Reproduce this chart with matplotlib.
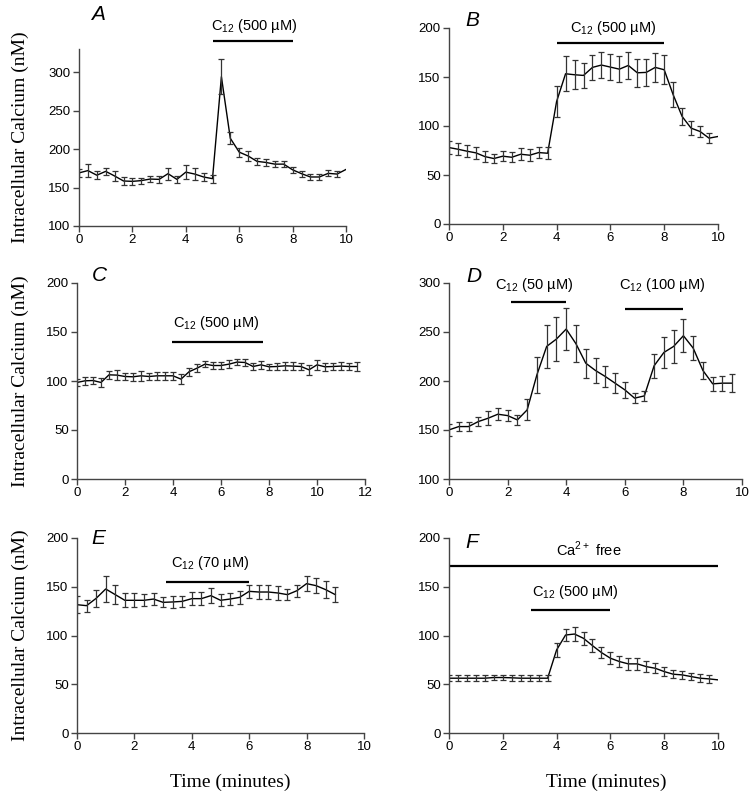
import matplotlib.pyplot as plt
import numpy as np

a_mean = [169, 172, 166, 171, 165, 158.5, 158, 159, 161, 160.6, 168, 160.6, 170, 167.5, 163.7, 161.5,
          294, 214, 196, 191, 184, 182.6, 180.4, 180.4, 173, 168, 163.7, 163.7, 168.4, 167.5, 173.5]
a_err = [5, 8, 5, 5, 6, 5, 5, 4, 4, 5, 8, 5, 9, 8, 5, 5,
         23, 8, 6, 6, 5, 4, 4, 4, 4, 4, 4, 4, 4, 4]

b_mean = [78, 76.3, 74.3, 72.6, 68.8, 66.8, 69.2, 68.1, 71.2, 70.2, 72.9, 72.2, 125, 153.3, 152.3, 151.6,
          159.8, 162.2, 160.1, 158, 161.8, 154.3, 154.7, 159.8, 157.4, 131.9, 109.7, 97.8, 94.4, 87.6, 89.3]
b_err = [7, 6, 6, 6, 6, 5, 5, 5, 6, 6, 6, 6, 16, 17.7, 15, 13,
         13, 13.5, 13, 13, 13.5, 14, 14, 15, 15, 12.7, 9, 7, 6, 5]

c_mean = [98.5, 100.2, 100.5, 98.5, 106.3, 106, 104.6, 104.3, 105.3, 104.6, 105.3, 105.3, 105.3,
          101.9, 109.4, 113.1, 117.2, 115.8, 115.8, 117.2, 119.3, 118.9, 114.8, 116.5, 114.5, 114.8,
          115.5, 115.2, 114.8, 111.4, 116.5, 114.5, 114.8, 115.2, 114.8, 114.8]
c_err = [4, 4, 4, 5, 4, 5, 4, 4, 5, 4, 4, 4, 4, 5, 4, 4, 3, 4, 4, 4, 3, 4, 4, 4, 3, 4,
         4, 4, 4, 5, 5, 4, 4, 4, 4, 5]

d_mean = [150.1, 153.5, 153.5, 158.6, 162, 166.1, 164.7, 160.3, 170.5, 206.3, 235.3, 242.8, 253,
          238, 218.2, 210.7, 204.6, 197.8, 191, 182.5, 184.8, 215.5, 229.1, 235.3, 246.2, 233.6,
          210.7, 197.1, 197.8, 197.8]
d_err = [6, 5, 5, 5, 7, 6, 6, 5, 10.7, 18.5, 22, 22, 21.5, 19, 14.7, 13, 11, 10, 8, 5, 5,
         12, 16, 16.5, 17, 12, 8.5, 7, 7.5, 9]

e_mean = [131.6, 130.6, 138.1, 147.7, 141.9, 136.1, 136.1, 136.1, 137.4, 134, 134.4, 135, 137.8,
          137.8, 140.9, 136.1, 137.4, 139.1, 145.3, 144.6, 144.6, 143.6, 141.9, 146, 153.2, 151.1,
          147, 141.9]
e_err = [8.5, 6, 9, 13, 10, 7, 7, 6, 6, 5, 6, 6, 7, 7, 8, 6, 6, 7, 7, 7, 7, 7, 6, 6, 8, 8, 9, 8]

f_mean = [56.2, 56.2, 56.2, 56.2, 56.2, 56.9, 56.9, 56.6, 56.2, 56.2, 56.2, 56.2, 85.2, 100.5,
          101.5, 97.1, 89.6, 82.5, 76.7, 73.3, 70.9, 70.9, 68.1, 66.4, 63, 60.3, 59.6, 57.9, 56.2,
          55.5, 54.5]
f_err = [3, 3, 3, 3, 3, 3, 3, 3, 3, 3, 3, 3, 7, 6, 7, 7, 7, 6, 6, 6, 6, 6, 6, 5, 5, 4, 4, 4, 4, 4]

panel_letters = ['A', 'B', 'C', 'D', 'E', 'F']
ylims = [(100, 330), (0, 200), (0, 200), (100, 300), (0, 200), (0, 200)]
xlims = [10, 10, 12, 10, 10, 10]
yticks = [[100, 150, 200, 250, 300], [0, 50, 100, 150, 200], [0, 50, 100, 150, 200],
          [100, 150, 200, 250, 300], [0, 50, 100, 150, 200], [0, 50, 100, 150, 200]]

# treatment bars: (start, end, bar y, label, text x, text y)
treatments = [
    [(5, 8, 340, r'C$_{12}$ (500 µM)', 6.55, 360)],
    [(4, 8, 185, r'C$_{12}$ (500 µM)', 6.1, 200)],
    [(3.95, 7.75, 140, r'C$_{12}$ (500 µM)', 5.8, 159)],
    [(2.1, 4, 281, r'C$_{12}$ (50 µM)', 2.9, 298),
     (6, 8, 273.5, r'C$_{12}$ (100 µM)', 7.27, 298)],
    [(3.1, 6, 155, r'C$_{12}$ (70 µM)', 4.63, 174)],
    [(0, 10, 171, r'Ca$^{2+}$ free', 5.19, 188),
     (3.05, 6, 126, r'C$_{12}$ (500 µM)', 4.68, 145)],
]

means = [a_mean, b_mean, c_mean, d_mean, e_mean, f_mean]
errs = [a_err, b_err, c_err, d_err, e_err, f_err]

plt.rcParams['font.family'] = ['Liberation Sans', 'DejaVu Sans']
plt.rcParams['mathtext.fontset'] = 'custom'
plt.rcParams['mathtext.rm'] = 'Liberation Sans'

W, H = 751, 794
fig = plt.figure(figsize=(W / 100, H / 100), dpi=100)

# axes boxes in pixels: left, top, right, bottom
boxes = [(79, 49, 346, 226), (449, 28, 718, 224),
         (77, 283, 365, 479), (449, 283, 742, 479),
         (77, 538, 364, 733), (449, 538, 718, 733)]
letter_pos = [(98, 15), (472, 21), (99, 275), (474, 277), (98, 539), (472, 543)]

for i in range(6):
    l, t, r, b = boxes[i]
    ax = fig.add_axes([l / W, 1 - b / H, (r - l) / W, (b - t) / H])
    y = np.array(means[i])
    e = np.array(errs[i])
    times = np.arange(len(y)) / 3
    ax.plot(times, y, color='black', lw=1)
    ax.errorbar(times[:len(e)], y[:len(e)], yerr=e, fmt='none', ecolor='#333333',
                elinewidth=0.9, capsize=2.5, capthick=0.9)
    ax.set_xlim(0, xlims[i])
    ax.set_ylim(*ylims[i])
    ax.set_xticks(np.arange(0, xlims[i] + 1, 2))
    ax.set_yticks(yticks[i])
    for s in ['top', 'right']:
        ax.spines[s].set_visible(False)
    for s in ['left', 'bottom']:
        ax.spines[s].set_color('#444444')
        ax.spines[s].set_linewidth(1)
    ax.tick_params(direction='out', length=4, width=1, color='#444444', labelsize=9.5, pad=2)

    for (x0, x1, yb, lab, xt, yt) in treatments[i]:
        ax.plot([x0, x1], [yb, yb], color='black', lw=1.6, clip_on=False, solid_capstyle='butt')
        ax.text(xt, yt, lab, ha='center', va='center', fontsize=10.5, clip_on=False)

    fig.text(letter_pos[i][0] / W, 1 - letter_pos[i][1] / H, panel_letters[i],
             fontsize=15, style='italic', ha='center', va='center')

# y labels for each row and x labels for bottom row
for (l, t, r, b) in boxes[0::2]:
    fig.text(20 / W, 1 - (t + b) / 2 / H, 'Intracellular Calcium (nM)', rotation=90,
             ha='center', va='center', fontsize=14, family='Liberation Serif')
fig.text(230 / W, 1 - 782 / H, 'Time (minutes)', ha='center', va='center',
         fontsize=14, family='Liberation Serif')
fig.text(606 / W, 1 - 782 / H, 'Time (minutes)', ha='center', va='center',
         fontsize=14, family='Liberation Serif')

plt.savefig('out.png', dpi=100)
